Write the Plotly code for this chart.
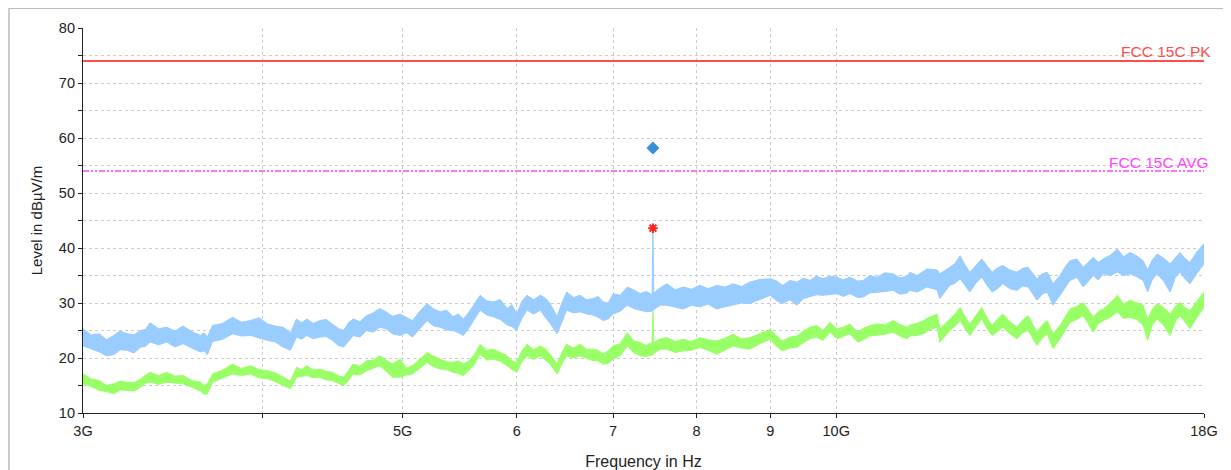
import plotly.graph_objects as go

# Frequencies in GHz
freq = [3.00, 3.04, 3.08, 3.115, 3.15, 3.185, 3.22, 3.255, 3.29, 3.315,
        3.34, 3.385, 3.43, 3.475, 3.52, 3.57, 3.62, 3.64, 3.66, 3.69,
        3.75, 3.81, 3.865, 3.92, 3.975, 4.03, 4.08, 4.13, 4.18, 4.22,
        4.255, 4.29, 4.335, 4.38, 4.425, 4.47, 4.51, 4.55, 4.585, 4.62,
        4.67, 4.72, 4.77, 4.82, 4.87, 4.92, 4.98, 5.03, 5.08, 5.14,
        5.20, 5.255, 5.31, 5.365, 5.42, 5.465, 5.51, 5.555, 5.60, 5.66,
        5.72, 5.78, 5.845, 5.91, 5.955, 6.00, 6.05, 6.10, 6.165, 6.23,
        6.28, 6.33, 6.40, 6.45, 6.50, 6.57, 6.64, 6.71, 6.78, 6.835,
        6.89, 6.945, 7.00, 7.08, 7.16, 7.235, 7.31, 7.38, 7.45, 7.46,
        7.47, 7.55, 7.63, 7.73, 7.83, 7.935, 8.04, 8.15, 8.26, 8.37,
        8.48, 8.595, 8.71, 8.85, 9.00, 9.09, 9.18, 9.285, 9.39, 9.49,
        9.59, 9.69, 9.79, 9.90, 10.01, 10.11, 10.22, 10.35, 10.44, 10.55,
        10.67, 10.81, 10.95, 11.07, 11.20, 11.25, 11.38, 11.50, 11.56, 11.75,
        11.80, 11.99, 12.09, 12.19, 12.28, 12.38, 12.50, 12.62, 12.72, 12.83,
        12.94, 13.05, 13.20, 13.35, 13.47, 13.59, 13.78, 13.90, 14.01, 14.14,
        14.30, 14.42, 14.53, 14.69, 14.84, 15.08, 15.20, 15.32, 15.50, 15.67,
        15.83, 15.99, 16.16, 16.33, 16.45, 16.57, 16.70, 16.87, 17.05, 17.19,
        17.32, 17.46, 17.60, 17.80, 18.00]

# Peak detector trace: upper / lower edge of the noise band (dBuV/m)
peak_hi = [25.3, 24.2, 24.4, 23.3, 24.1, 24.9, 24.4, 24.2, 25.0, 25.2,
           26.4, 25.3, 25.6, 24.9, 25.8, 24.8, 24.1, 24.6, 23.8, 25.9,
           26.3, 27.4, 26.5, 26.8, 27.3, 26.2, 25.8, 25.6, 24.6, 27.1,
           26.4, 27.1, 26.3, 26.8, 27.0, 26.2, 25.4, 25.0, 26.4, 27.1,
           26.6, 27.7, 28.2, 29.0, 28.4, 27.6, 28.0, 27.4, 26.8, 28.5,
           29.9, 28.9, 28.4, 28.7, 27.5, 28.0, 27.1, 28.2, 29.6, 31.4,
           30.4, 30.2, 30.6, 29.0, 29.7, 28.0, 30.3, 31.4, 30.6, 31.4,
           30.9, 29.9, 27.5, 30.0, 32.0, 31.0, 31.4, 30.6, 30.8, 31.2,
           30.2, 30.0, 31.7, 31.4, 32.9, 32.4, 31.7, 32.1, 31.5, 43.6,
           31.8, 32.8, 33.5, 32.4, 32.9, 32.5, 33.2, 32.6, 33.2, 32.9,
           33.5, 33.0, 33.8, 34.3, 34.4, 34.0, 33.2, 34.1, 33.8, 34.5,
           34.1, 34.9, 34.4, 34.9, 34.7, 34.2, 34.7, 34.0, 34.1, 35.0,
           34.7, 35.5, 35.3, 34.6, 34.8, 35.6, 35.0, 35.9, 36.2, 36.0,
           35.3, 36.5, 37.2, 38.6, 37.0, 35.6, 36.9, 38.0, 36.8, 35.6,
           36.4, 36.8, 36.0, 35.6, 36.3, 36.5, 34.4, 35.3, 35.6, 33.5,
           35.0, 36.6, 37.7, 38.0, 36.5, 38.3, 37.4, 38.0, 38.7, 39.8,
           38.4, 39.2, 38.6, 37.7, 36.0, 37.8, 38.9, 38.2, 37.1, 38.3,
           39.2, 38.1, 37.4, 39.3, 40.8]

peak_lo = [22.2, 21.6, 21.1, 20.4, 20.6, 21.5, 21.4, 20.9, 22.0, 22.1,
           22.9, 22.4, 22.9, 22.0, 22.6, 21.8, 21.1, 21.3, 20.6, 23.0,
           23.4, 24.4, 24.0, 24.1, 23.6, 23.2, 22.9, 22.0, 21.4, 23.8,
           23.4, 24.1, 23.5, 23.8, 23.9, 23.2, 22.3, 22.0, 23.0, 24.1,
           23.8, 25.0, 24.7, 25.6, 25.3, 24.4, 24.1, 24.6, 23.8, 25.4,
           26.8, 25.8, 25.6, 25.1, 25.0, 24.6, 24.1, 25.3, 26.8, 28.7,
           27.8, 27.5, 27.0, 26.0, 25.7, 25.0, 27.2, 28.7, 28.0, 28.7,
           27.4, 26.3, 24.4, 26.7, 28.7, 28.2, 28.4, 28.0, 27.8, 27.4,
           26.8, 27.1, 28.0, 28.5, 29.6, 29.0, 28.7, 28.4, 28.5, 28.5,
           28.8, 29.6, 29.6, 29.2, 28.9, 29.6, 29.3, 29.8, 28.9, 29.3,
           29.6, 30.0, 29.9, 30.6, 31.4, 30.4, 29.9, 30.6, 29.6, 30.8,
           31.1, 31.5, 31.4, 31.6, 31.7, 31.2, 31.7, 31.0, 31.1, 31.8,
           32.0, 32.1, 32.3, 31.6, 31.8, 32.3, 32.0, 32.6, 32.9, 32.4,
           30.8, 33.2, 33.6, 34.4, 33.2, 32.0, 33.6, 34.7, 33.3, 32.0,
           32.6, 33.5, 32.6, 32.3, 33.1, 32.9, 30.5, 31.6, 32.0, 29.6,
           31.4, 32.9, 34.1, 34.7, 32.9, 35.0, 34.2, 35.3, 35.0, 35.6,
           35.0, 35.3, 34.8, 34.1, 32.0, 34.2, 35.3, 34.0, 32.0, 34.6,
           35.6, 34.4, 33.5, 35.4, 37.1]

# Average detector trace: upper / lower edge of the noise band (dBuV/m)
avg_hi = [17.1, 16.2, 15.9, 15.0, 15.3, 15.8, 15.6, 15.5, 16.2, 16.9,
          17.4, 16.8, 17.4, 16.7, 16.8, 15.9, 15.6, 15.0, 15.3, 17.1,
          17.8, 18.9, 18.1, 18.6, 17.9, 17.7, 17.3, 16.5, 15.8, 18.3,
          17.9, 18.6, 17.8, 18.0, 17.6, 17.4, 16.8, 16.5, 17.6, 18.9,
          18.5, 19.5, 19.6, 20.4, 19.6, 18.9, 19.8, 18.2, 18.6, 19.8,
          21.0, 20.3, 19.8, 19.3, 19.2, 19.5, 18.9, 19.4, 20.4, 22.5,
          21.4, 21.6, 21.0, 20.4, 19.5, 19.2, 21.3, 22.5, 21.5, 22.2,
          21.7, 20.7, 18.9, 21.0, 22.5, 21.8, 22.5, 21.6, 21.6, 21.4,
          20.7, 21.3, 22.2, 22.6, 24.6, 23.1, 22.8, 22.3, 22.8, 28.3,
          22.8, 23.5, 23.7, 23.0, 23.4, 23.0, 23.7, 23.3, 23.1, 23.6,
          24.3, 23.5, 23.7, 24.5, 25.2, 24.0, 23.1, 23.8, 24.0, 24.9,
          25.6, 25.9, 25.0, 26.5, 25.3, 25.6, 26.2, 24.7, 25.4, 25.9,
          26.2, 26.0, 26.8, 26.1, 25.6, 26.0, 26.3, 26.8, 27.2, 28.0,
          25.3, 27.1, 28.0, 29.2, 27.6, 26.2, 27.8, 29.2, 27.4, 25.9,
          27.1, 28.0, 26.6, 25.6, 26.9, 27.7, 24.7, 26.0, 26.8, 24.4,
          25.9, 27.4, 28.9, 29.4, 30.1, 27.4, 28.4, 28.9, 30.0, 31.4,
          29.8, 30.5, 30.0, 29.6, 27.0, 28.8, 29.9, 29.2, 28.0, 29.3,
          30.1, 29.2, 28.6, 30.4, 32.0]

avg_lo = [15.3, 14.8, 14.1, 13.9, 13.5, 14.2, 14.1, 14.0, 14.7, 15.4,
          15.6, 15.2, 15.6, 15.4, 15.3, 14.7, 14.0, 13.4, 13.5, 15.6,
          16.3, 17.1, 16.8, 17.1, 16.4, 16.2, 15.7, 15.0, 14.4, 16.5,
          16.6, 16.8, 16.4, 16.5, 16.0, 15.9, 15.4, 15.0, 15.9, 17.1,
          16.9, 17.7, 18.1, 18.6, 17.6, 16.5, 16.5, 16.9, 17.1, 18.2,
          19.2, 18.4, 18.0, 17.9, 17.4, 17.2, 16.8, 17.7, 18.6, 20.7,
          19.6, 19.8, 19.4, 18.6, 17.9, 17.4, 19.3, 20.4, 19.7, 20.4,
          19.6, 18.9, 17.1, 19.0, 20.4, 20.0, 20.4, 19.9, 19.5, 19.5,
          18.9, 19.0, 19.8, 20.4, 22.2, 21.0, 20.4, 20.3, 20.6, 20.6,
          20.8, 21.6, 21.6, 21.0, 21.3, 21.4, 21.9, 21.4, 20.7, 21.5,
          22.2, 21.8, 21.6, 22.6, 23.4, 22.1, 21.3, 21.8, 21.9, 22.8,
          23.5, 23.8, 23.2, 24.7, 23.5, 23.9, 24.4, 22.9, 23.3, 24.0,
          24.1, 24.3, 24.7, 24.0, 23.5, 24.0, 24.1, 24.4, 24.9, 25.6,
          22.9, 25.0, 25.8, 26.8, 25.4, 24.1, 25.7, 27.1, 25.4, 24.1,
          24.8, 25.6, 24.4, 23.5, 24.6, 25.0, 22.3, 23.6, 24.4, 21.7,
          23.5, 25.0, 26.5, 27.0, 27.7, 24.7, 26.2, 26.8, 27.4, 28.4,
          27.2, 27.4, 27.0, 26.0, 23.2, 26.0, 27.1, 26.0, 24.1, 26.6,
          27.7, 26.6, 25.3, 27.4, 29.2]

# Limit lines
limit_freq = [3.0, 18.0]
fcc_pk = [74, 74]
fcc_avg = [54, 54]

# Final measurement markers
final_freq = [7.46]
final_pk = [58.2]
final_avg = [43.6]

x_tickvals = [3, 4, 5, 6, 7, 8, 9, 10, 18]
x_ticktext = ["3G", "", "5G", "6", "7", "8", "9", "10G", "18G"]
y_tickvals = [10, 15, 20, 25, 30, 35, 40, 45, 50, 55, 60, 65, 70, 75, 80]
y_ticktext = ["10", "", "20", "", "30", "", "40", "", "50", "", "60", "", "70", "", "80"]

BLUE = "#99CCFF"
GREEN = "#99FF66"
FONT = "Liberation Sans, Arial, sans-serif"

fig = go.Figure()

fig.add_trace(go.Scatter(x=freq, y=peak_lo, mode="lines", line=dict(color=BLUE, width=1),
                         hoverinfo="skip", showlegend=False))
fig.add_trace(go.Scatter(x=freq, y=peak_hi, mode="lines", line=dict(color=BLUE, width=1),
                         fill="tonexty", fillcolor=BLUE, showlegend=False))
fig.add_trace(go.Scatter(x=freq, y=avg_lo, mode="lines", line=dict(color=GREEN, width=1),
                         hoverinfo="skip", showlegend=False))
fig.add_trace(go.Scatter(x=freq, y=avg_hi, mode="lines", line=dict(color=GREEN, width=1),
                         fill="tonexty", fillcolor=GREEN, showlegend=False))

fig.add_trace(go.Scatter(x=limit_freq, y=fcc_pk, mode="lines",
                         line=dict(color="#FF4D4D", width=2), showlegend=False))
fig.add_trace(go.Scatter(x=limit_freq, y=fcc_avg, mode="lines",
                         line=dict(color="#FF44FF", width=1.5, dash="6px,2px,2px,2px,2px,2px"),
                         showlegend=False))

fig.add_trace(go.Scatter(x=final_freq, y=final_pk, mode="markers",
                         marker=dict(symbol="diamond", size=10, color="#3A8FD9"), showlegend=False))
fig.add_trace(go.Scatter(x=final_freq, y=final_avg, mode="markers",
                         marker=dict(symbol="asterisk-open", size=8, color="#FF2222",
                                     line=dict(color="#FF2222", width=2)), showlegend=False))

fig.add_annotation(x=1.008, xref="paper", y=74, yref="y", text="FCC 15C PK", showarrow=False,
                   xanchor="right", yanchor="bottom", yshift=-1,
                   font=dict(color="#FF4D4D", size=15.5, family=FONT))
fig.add_annotation(x=1.006, xref="paper", y=54, yref="y", text="FCC 15C AVG", showarrow=False,
                   xanchor="right", yanchor="bottom", yshift=-2,
                   font=dict(color="#FF44FF", size=15.5, family=FONT))

# outer panel border
fig.add_shape(type="rect", xref="paper", yref="paper", x0=-0.066, x1=1.05, y0=-0.25, y1=1.051,
              line=dict(color="#BBBBBB", width=1.5), fillcolor="rgba(0,0,0,0)", layer="below")

fig.update_layout(
    width=1231, height=470,
    margin=dict(l=75, r=35, t=20, b=65),
    paper_bgcolor="white", plot_bgcolor="white",
    font=dict(family=FONT, size=14.5, color="#222222"),
)
fig.update_xaxes(type="log", range=[0.47712, 1.25527], tickvals=x_tickvals, ticktext=x_ticktext,
                 showgrid=True, gridcolor="#CCCCCC", griddash="dot", gridwidth=1,
                 showline=True, linecolor="#222222", linewidth=1.2,
                 ticks="outside", ticklen=4, tickcolor="#222222",
                 title=dict(text="Frequency in Hz", standoff=18, font=dict(size=16)),
                 zeroline=False, automargin=False)
fig.update_yaxes(range=[10, 80], tickvals=y_tickvals, ticktext=y_ticktext,
                 showgrid=True, gridcolor="#CCCCCC", griddash="dot", gridwidth=1,
                 showline=True, linecolor="#222222", linewidth=1.2,
                 ticks="outside", ticklen=4, tickcolor="#222222",
                 title=dict(text="Level in dBµV/m", standoff=12, font=dict(size=15)),
                 zeroline=False, automargin=False)

fig.write_html("out.html")
